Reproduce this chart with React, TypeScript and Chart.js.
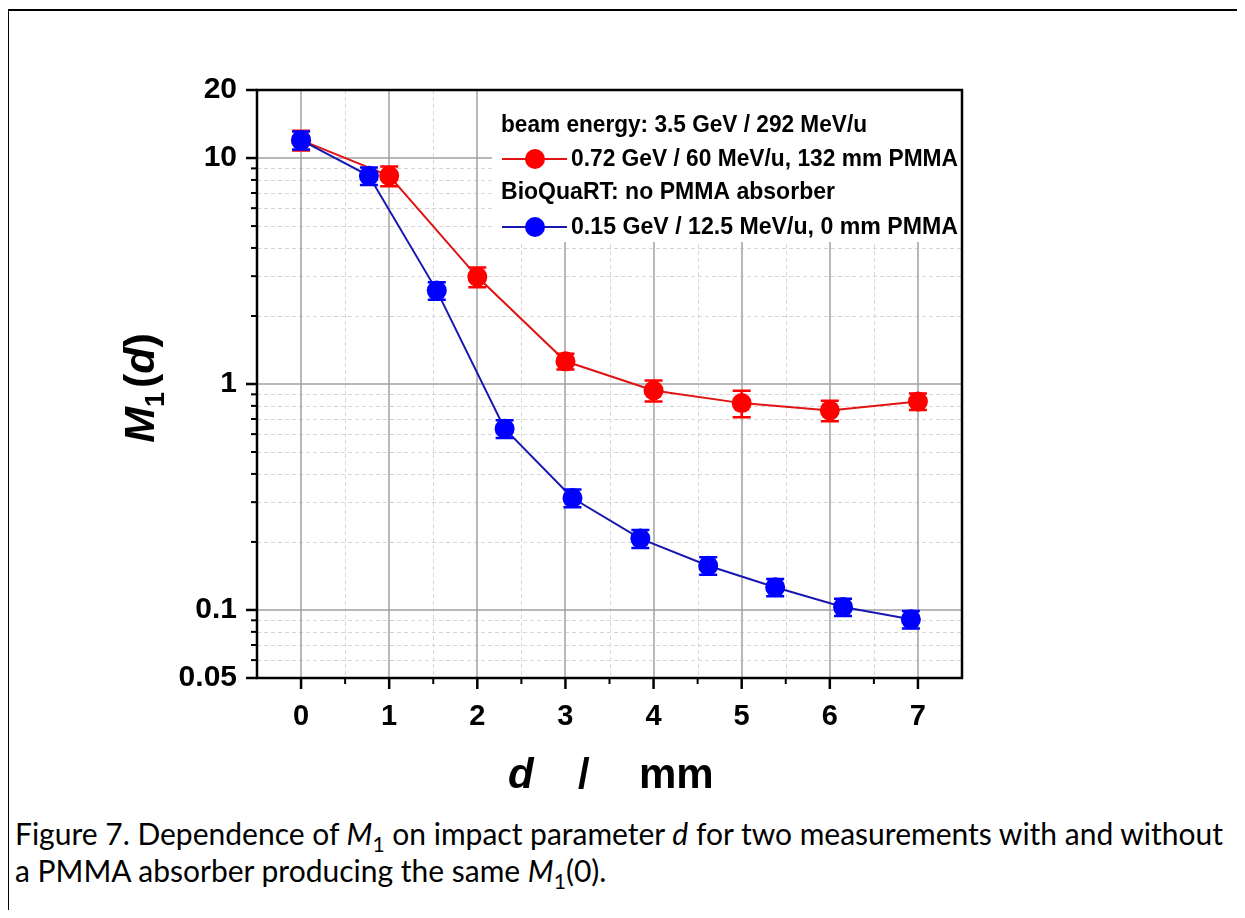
import React, { useEffect, useRef } from "react";
import { Chart, registerables } from "chart.js";

Chart.register(...registerables);

// ---- data ----
const redX = [0, 1, 2, 3, 4, 5, 6, 7];
const redY = [12.0, 8.34, 2.98, 1.26, 0.936, 0.823, 0.764, 0.837];
const redErr = [1.2, 0.83, 0.3, 0.1, 0.1, 0.11, 0.08, 0.07];

const blueX = [0, 0.77, 1.54, 2.31, 3.08, 3.85, 4.62, 5.38, 6.15, 6.92];
const blueY = [12.0, 8.34, 2.59, 0.634, 0.313, 0.207, 0.157, 0.126, 0.103, 0.0909];
const blueErr = [1.1, 0.75, 0.23, 0.057, 0.028, 0.019, 0.014, 0.011, 0.009, 0.008];

const xTickValues = [0, 1, 2, 3, 4, 5, 6, 7];
const xMinorValues = [0.5, 1.5, 2.5, 3.5, 4.5, 5.5, 6.5];
const yLabelValues = [0.05, 0.1, 1, 10, 20];
const yMajorGrid = [0.1, 1, 10];
const yMinorValues = [0.06, 0.07, 0.08, 0.09, 0.2, 0.3, 0.4, 0.5, 0.6, 0.7, 0.8, 0.9, 2, 3, 4, 5, 6, 7, 8, 9];

const legendHeader1 = "beam energy: 3.5 GeV / 292 MeV/u";
const legendRed = "0.72 GeV / 60 MeV/u, 132 mm PMMA";
const legendHeader2 = "BioQuaRT: no PMMA absorber";
const legendBlue = "0.15 GeV / 12.5 MeV/u, 0 mm PMMA";

const RED = "#ff0000";
const RED_LINE = "#e01414";
const BLUE = "#0000ff";
const BLUE_LINE = "#1818b0";

const errorsByDataset = [redErr, blueErr];
const colorsByDataset = [RED, BLUE];

const LEGEND_FONT = 'bold 24px "Liberation Sans Narrow", "Arial Narrow", "Liberation Sans", Arial, sans-serif';
const TITLE_FAMILY = '"Liberation Sans", Arial, sans-serif';

const customPlugin = {
  id: "custom",
  beforeDatasetsDraw(chart: any) {
    const { ctx, chartArea: a, scales } = chart;
    const x = scales.x, y = scales.y;
    ctx.save();
    // minor grid
    ctx.setLineDash([4, 3]);
    ctx.strokeStyle = "#d6d6d6";
    ctx.lineWidth = 1;
    xMinorValues.forEach((v) => {
      const px = Math.round(x.getPixelForValue(v)) + 0.5;
      ctx.beginPath(); ctx.moveTo(px, a.top); ctx.lineTo(px, a.bottom); ctx.stroke();
    });
    yMinorValues.forEach((v) => {
      const py = Math.round(y.getPixelForValue(v)) + 0.5;
      ctx.beginPath(); ctx.moveTo(a.left, py); ctx.lineTo(a.right, py); ctx.stroke();
    });
    // major grid
    ctx.setLineDash([]);
    ctx.strokeStyle = "#a0a0a0";
    ctx.lineWidth = 1.5;
    xTickValues.forEach((v) => {
      const px = Math.round(x.getPixelForValue(v));
      ctx.beginPath(); ctx.moveTo(px, a.top); ctx.lineTo(px, a.bottom); ctx.stroke();
    });
    yMajorGrid.forEach((v) => {
      const py = Math.round(y.getPixelForValue(v));
      ctx.beginPath(); ctx.moveTo(a.left, py); ctx.lineTo(a.right, py); ctx.stroke();
    });
    // legend background
    ctx.fillStyle = "#ffffff";
    ctx.fillRect(a.left + 235, a.top, a.right - a.left - 235, 152);
    ctx.restore();
  },
  afterDatasetDraw(chart: any, args: any) {
    const { ctx, scales } = chart;
    const x = scales.x, y = scales.y;
    const errs = errorsByDataset[args.index];
    const ds = chart.data.datasets[args.index];
    ctx.save();
    ctx.strokeStyle = colorsByDataset[args.index];
    ctx.lineWidth = 2.5;
    ds.data.forEach((p: any, i: number) => {
      const px = x.getPixelForValue(p.x);
      const top = y.getPixelForValue(p.y + errs[i]);
      const bot = y.getPixelForValue(p.y - errs[i]);
      ctx.beginPath();
      ctx.moveTo(px, top); ctx.lineTo(px, bot);
      ctx.moveTo(px - 9, top); ctx.lineTo(px + 9, top);
      ctx.moveTo(px - 9, bot); ctx.lineTo(px + 9, bot);
      ctx.stroke();
    });
    ctx.restore();
  },
  afterDraw(chart: any) {
    const { ctx, chartArea: a, scales } = chart;
    const x = scales.x, y = scales.y;
    ctx.save();
    // frame
    ctx.strokeStyle = "#000";
    ctx.lineWidth = 2.5;
    ctx.strokeRect(a.left, a.top, a.right - a.left, a.bottom - a.top);
    // ticks
    ctx.lineWidth = 2.5;
    xTickValues.forEach((v) => {
      const px = x.getPixelForValue(v);
      ctx.beginPath(); ctx.moveTo(px, a.bottom); ctx.lineTo(px, a.bottom + 11); ctx.stroke();
    });
    ctx.lineWidth = 2;
    xMinorValues.forEach((v) => {
      const px = x.getPixelForValue(v);
      ctx.beginPath(); ctx.moveTo(px, a.bottom); ctx.lineTo(px, a.bottom + 6); ctx.stroke();
    });
    ctx.lineWidth = 2.5;
    yLabelValues.forEach((v) => {
      const py = y.getPixelForValue(v);
      ctx.beginPath(); ctx.moveTo(a.left, py); ctx.lineTo(a.left - 11, py); ctx.stroke();
    });
    ctx.lineWidth = 2;
    yMinorValues.forEach((v) => {
      const py = y.getPixelForValue(v);
      ctx.beginPath(); ctx.moveTo(a.left, py); ctx.lineTo(a.left - 6, py); ctx.stroke();
    });

    // legend
    const lx = a.left + 244;
    const rows = [35, 69, 102, 137];
    ctx.fillStyle = "#000";
    ctx.font = LEGEND_FONT;
    ctx.textBaseline = "middle";
    ctx.textAlign = "left";
    ctx.fillText(legendHeader1, lx, a.top + rows[0], 366);
    ctx.fillText(legendHeader2, lx, a.top + rows[2], 334);
    const sym = (row: number, lineColor: string, fill: string, label: string) => {
      const cy = a.top + row;
      ctx.strokeStyle = lineColor;
      ctx.lineWidth = 2;
      ctx.beginPath(); ctx.moveTo(lx + 1, cy); ctx.lineTo(lx + 66, cy); ctx.stroke();
      ctx.fillStyle = fill;
      ctx.beginPath(); ctx.arc(lx + 34, cy, 10, 0, Math.PI * 2); ctx.fill();
      ctx.fillStyle = "#000";
      ctx.fillText(label, lx + 70, cy, a.right - (lx + 70) - 4);
    };
    sym(rows[1], RED_LINE, RED, legendRed);
    sym(rows[3], BLUE_LINE, BLUE, legendBlue);

    // x title: d / mm
    ctx.fillStyle = "#000";
    ctx.textBaseline = "alphabetic";
    ctx.font = `italic bold 42px ${TITLE_FAMILY}`;
    ctx.fillText("d", 500, 780);
    ctx.font = `bold 42px ${TITLE_FAMILY}`;
    ctx.fillText("/", 570, 780);
    ctx.fillText("mm", 631, 780);

    // y title: M1(d) rotated
    ctx.translate(146, 380);
    ctx.rotate(-Math.PI / 2);
    const parts = [
      { t: "M", f: `italic bold 43px ${TITLE_FAMILY}`, dy: 0 },
      { t: "1", f: `bold 27px ${TITLE_FAMILY}`, dy: 10 },
      { t: "(", f: `bold 43px ${TITLE_FAMILY}`, dy: 0 },
      { t: "d", f: `italic bold 43px ${TITLE_FAMILY}`, dy: 0 },
      { t: ")", f: `bold 43px ${TITLE_FAMILY}`, dy: 0 },
    ];
    let total = 0;
    const widths = parts.map((p) => { ctx.font = p.f; const w = ctx.measureText(p.t).width; total += w; return w; });
    total += 4;
    let cx = -total / 2;
    parts.forEach((p, i) => {
      ctx.font = p.f;
      ctx.fillText(p.t, cx, p.dy);
      cx += widths[i] + (i === 1 ? 4 : 0);
    });
    ctx.restore();
  },
};

export default function App() {
  const canvasRef = useRef<HTMLCanvasElement | null>(null);

  useEffect(() => {
    document.body.style.overflow = "hidden";
    const canvas = canvasRef.current;
    if (!canvas) return;
    const redData = redX.map((v, i) => ({ x: v, y: redY[i] }));
    const blueData = blueX.map((v, i) => ({ x: v, y: blueY[i] }));
    const chart = new Chart(canvas, {
      type: "scatter",
      data: {
        datasets: [
          {
            label: legendRed,
            data: redData,
            showLine: true,
            borderColor: RED_LINE,
            borderWidth: 2,
            pointRadius: 10,
            pointBackgroundColor: RED,
            pointBorderWidth: 0,
            pointBorderColor: RED,
            order: 2,
          },
          {
            label: legendBlue,
            data: blueData,
            showLine: true,
            borderColor: BLUE_LINE,
            borderWidth: 2,
            pointRadius: 10,
            pointBackgroundColor: BLUE,
            pointBorderWidth: 0,
            pointBorderColor: BLUE,
            order: 1,
          },
        ],
      },
      options: {
        animation: false,
        responsive: false,
        devicePixelRatio: 1,
        layout: { padding: { left: 0, right: 283, top: 82, bottom: 0 } },
        plugins: {
          legend: { display: false },
          tooltip: { enabled: false },
        },
        scales: {
          x: {
            type: "linear",
            min: -0.5,
            max: 7.5,
            grid: { display: false, drawTicks: false },
            border: { display: false },
            afterBuildTicks: (s: any) => { s.ticks = xTickValues.map((v) => ({ value: v })); },
            afterFit: (s: any) => { s.height = 130; },
            ticks: {
              autoSkip: false,
              maxRotation: 0,
              padding: 22,
              color: "#000",
              font: { family: TITLE_FAMILY, size: 29, weight: "bold" },
              callback: (v: any) => String(v),
            },
          },
          y: {
            type: "logarithmic",
            min: 0.05,
            max: 20,
            grid: { display: false, drawTicks: false },
            border: { display: false },
            afterBuildTicks: (s: any) => { s.ticks = yLabelValues.map((v) => ({ value: v })); },
            afterFit: (s: any) => { s.width = 249; },
            ticks: {
              autoSkip: false,
              padding: 20,
              color: "#000",
              font: { family: TITLE_FAMILY, size: 30, weight: "bold" },
              callback: (v: any) => (yLabelValues.includes(v) ? String(v) : ""),
            },
          },
        },
      },
      plugins: [customPlugin],
    } as any);
    return () => chart.destroy();
  }, []);

  const capStyle: React.CSSProperties = {
    fontFamily: 'Lato, "Open Sans", sans-serif',
    fontSize: "30px",
    lineHeight: "37px",
    color: "#000",
    whiteSpace: "nowrap",
  };

  return (
    <div style={{ position: "relative", width: 1237, height: 902, background: "#fff" }}>
      <div style={{ position: "absolute", left: -1, top: 1, width: 1246, height: 2, background: "#000" }} />
      <div style={{ position: "absolute", left: -1, top: 1, width: 2, height: 930, background: "#000" }} />
      <canvas
        ref={canvasRef}
        width={1237}
        height={800}
        style={{ position: "absolute", left: 0, top: 0, width: 1237, height: 800 }}
      />
      <div style={{ position: "absolute", left: 7, top: 807, ...capStyle }}>
        <div>
          Figure 7. Dependence of <i>M</i><sub style={{ fontSize: "0.7em", lineHeight: 0 }}>1</sub> on impact parameter{" "}
          <i>d</i> for two measurements with and without
        </div>
        <div>
          a PMMA absorber producing the same <i>M</i>
          <sub style={{ fontSize: "0.7em", lineHeight: 0 }}>1</sub>(0).
        </div>
      </div>
    </div>
  );
}
